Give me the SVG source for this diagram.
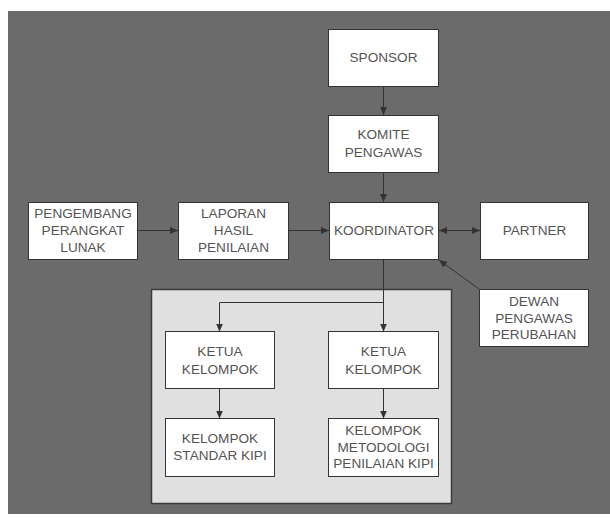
<svg xmlns="http://www.w3.org/2000/svg" width="610" height="518" viewBox="0 0 610 518">
<defs>
<style>
.box{fill:#ffffff;stroke:#333333;stroke-width:1}
.t{font-family:"Liberation Sans",Arial,sans-serif;font-size:13.6px;fill:#555555;text-anchor:middle}
.c{fill:none;stroke:#333333;stroke-width:1}
</style>
<marker id="ah" markerUnits="userSpaceOnUse" markerWidth="9" markerHeight="8" refX="8" refY="3.5" orient="auto">
<path d="M0,0 L8,3.5 L0,7 z" fill="#333333"/>
</marker>
<marker id="as" markerUnits="userSpaceOnUse" markerWidth="9" markerHeight="8" refX="0" refY="3.5" orient="auto">
<path d="M8,0 L0,3.5 L8,7 z" fill="#333333"/>
</marker>
</defs>
<rect x="0" y="0" width="610" height="518" fill="#ffffff"/>
<rect x="8" y="11" width="602" height="503" fill="#6b6b6b"/>
<g id="panel">
<rect x="151.5" y="289.5" width="300" height="214" fill="#e0e0e0" stroke="#3a3a3a" stroke-width="1.5"/>
</g>
<g id="connectors">
<line class="c" x1="383.5" y1="86" x2="383.5" y2="115" marker-end="url(#ah)"/>
<line class="c" x1="383.5" y1="172" x2="383.5" y2="202" marker-end="url(#ah)"/>
<line class="c" x1="137" y1="230.5" x2="178" y2="230.5" marker-end="url(#ah)"/>
<line class="c" x1="288" y1="230.5" x2="329" y2="230.5" marker-end="url(#ah)"/>
<line class="c" x1="439" y1="230.5" x2="480" y2="230.5" marker-start="url(#as)" marker-end="url(#ah)"/>
<line class="c" x1="479" y1="289" x2="439" y2="260" marker-end="url(#ah)"/>
<line class="c" x1="383.5" y1="259" x2="383.5" y2="331.5" marker-end="url(#ah)"/>
<polyline class="c" points="383.5,302.5 219.5,302.5 219.5,331.5" marker-end="url(#ah)"/>
<line class="c" x1="219.5" y1="389" x2="219.5" y2="418.5" marker-end="url(#ah)"/>
<line class="c" x1="383.5" y1="389" x2="383.5" y2="418.5" marker-end="url(#ah)"/>
</g>
<g id="sponsor">
<rect class="box" x="328.5" y="29.5" width="110" height="57"/>
<text class="t" x="383.5" y="61.5">SPONSOR</text>
</g>
<g id="komite">
<rect class="box" x="328.5" y="115.5" width="110" height="57"/>
<text class="t" x="383.5" y="139">KOMITE</text>
<text class="t" x="383.5" y="157">PENGAWAS</text>
</g>
<g id="pengembang">
<rect class="box" x="28.5" y="202.5" width="109" height="57"/>
<text class="t" x="83" y="218">PENGEMBANG</text>
<text class="t" x="83" y="235">PERANGKAT</text>
<text class="t" x="83" y="252">LUNAK</text>
</g>
<g id="laporan">
<rect class="box" x="178.5" y="202.5" width="110" height="57"/>
<text class="t" x="233.5" y="218">LAPORAN</text>
<text class="t" x="233.5" y="235">HASIL</text>
<text class="t" x="233.5" y="252">PENILAIAN</text>
</g>
<g id="koordinator">
<rect class="box" x="329.5" y="202.5" width="109" height="57"/>
<text class="t" x="384" y="235">KOORDINATOR</text>
</g>
<g id="partner">
<rect class="box" x="480.5" y="202.5" width="108" height="57"/>
<text class="t" x="534.5" y="235">PARTNER</text>
</g>
<g id="dewan">
<rect class="box" x="479.5" y="289.5" width="109" height="57"/>
<text class="t" x="534" y="306">DEWAN</text>
<text class="t" x="534" y="323">PENGAWAS</text>
<text class="t" x="534" y="339">PERUBAHAN</text>
</g>
<g id="ketua-kiri">
<rect class="box" x="165.5" y="331.5" width="109" height="57"/>
<text class="t" x="220" y="356">KETUA</text>
<text class="t" x="220" y="374">KELOMPOK</text>
</g>
<g id="ketua-kanan">
<rect class="box" x="328.5" y="331.5" width="110" height="57"/>
<text class="t" x="383.5" y="356">KETUA</text>
<text class="t" x="383.5" y="374">KELOMPOK</text>
</g>
<g id="kelompok-standar">
<rect class="box" x="165.5" y="418.5" width="109" height="58"/>
<text class="t" x="220" y="443">KELOMPOK</text>
<text class="t" x="220" y="460">STANDAR KIPI</text>
</g>
<g id="kelompok-metodologi">
<rect class="box" x="328.5" y="418.5" width="110" height="58"/>
<text class="t" x="383.5" y="435">KELOMPOK</text>
<text class="t" x="383.5" y="451.5">METODOLOGI</text>
<text class="t" x="383.5" y="468">PENILAIAN KIPI</text>
</g>
</svg>
